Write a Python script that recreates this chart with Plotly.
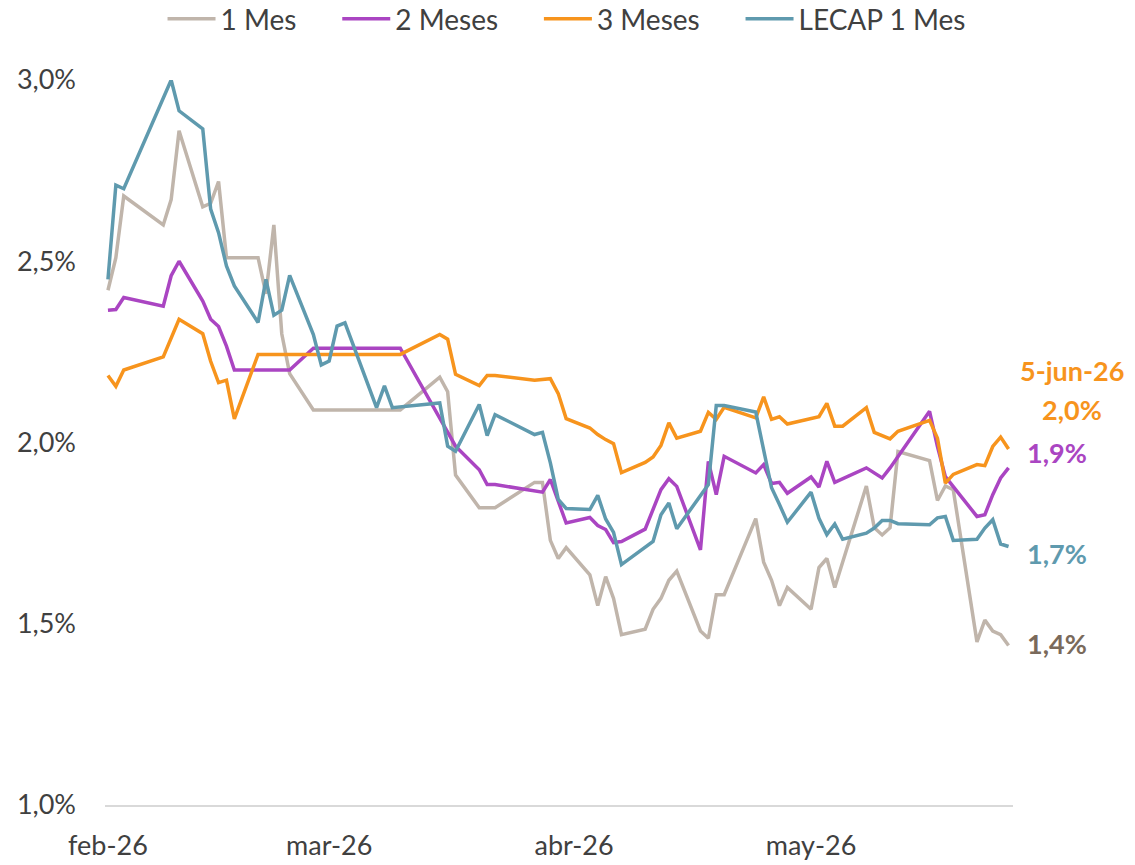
import plotly.graph_objects as go

# Tasas mensuales (%), por serie
fechas_1m = ["2026-02-01", "2026-02-02", "2026-02-03", "2026-02-08", "2026-02-09", "2026-02-10",
             "2026-02-13", "2026-02-14", "2026-02-15", "2026-02-16", "2026-02-20", "2026-02-21",
             "2026-02-22", "2026-02-23", "2026-02-24", "2026-02-27", "2026-03-10", "2026-03-15",
             "2026-03-16", "2026-03-17", "2026-03-20", "2026-03-22", "2026-03-27", "2026-03-28",
             "2026-03-29", "2026-03-30", "2026-03-31", "2026-04-03", "2026-04-04", "2026-04-05",
             "2026-04-06", "2026-04-07", "2026-04-10", "2026-04-11", "2026-04-12", "2026-04-13",
             "2026-04-14", "2026-04-17", "2026-04-18", "2026-04-19", "2026-04-20", "2026-04-24",
             "2026-04-25", "2026-04-26", "2026-04-27", "2026-04-28", "2026-05-01", "2026-05-02",
             "2026-05-03", "2026-05-04", "2026-05-08", "2026-05-09", "2026-05-10", "2026-05-11",
             "2026-05-12", "2026-05-16", "2026-05-17", "2026-05-18", "2026-05-19", "2026-05-22",
             "2026-05-23", "2026-05-24", "2026-05-25", "2026-05-26"]
tasa_1m = [2.42, 2.51, 2.68, 2.60, 2.67, 2.86,
           2.65, 2.66, 2.72, 2.51, 2.51, 2.41,
           2.60, 2.30, 2.19, 2.09, 2.09, 2.18,
           2.14, 1.91, 1.82, 1.82, 1.89, 1.89,
           1.73, 1.68, 1.71, 1.635, 1.55, 1.63,
           1.57, 1.47, 1.485, 1.54, 1.57, 1.62,
           1.645, 1.48, 1.46, 1.58, 1.58, 1.79,
           1.67, 1.62, 1.55, 1.60, 1.54, 1.655,
           1.68, 1.60, 1.88, 1.765, 1.745, 1.765,
           1.975, 1.95, 1.84, 1.88, 1.87, 1.45,
           1.51, 1.48, 1.47, 1.44]

fechas_2m = ["2026-02-01", "2026-02-02", "2026-02-03", "2026-02-08", "2026-02-09", "2026-02-10",
             "2026-02-13", "2026-02-14", "2026-02-15", "2026-02-16", "2026-02-17", "2026-02-24",
             "2026-02-27", "2026-03-10", "2026-03-17", "2026-03-20", "2026-03-21", "2026-03-22",
             "2026-03-28", "2026-03-29", "2026-03-31", "2026-04-03", "2026-04-04", "2026-04-05",
             "2026-04-06", "2026-04-07", "2026-04-10", "2026-04-12", "2026-04-13", "2026-04-14",
             "2026-04-17", "2026-04-18", "2026-04-19", "2026-04-20", "2026-04-24", "2026-04-25",
             "2026-04-26", "2026-04-27", "2026-04-28", "2026-05-01", "2026-05-02", "2026-05-03",
             "2026-05-04", "2026-05-08", "2026-05-10", "2026-05-11", "2026-05-16", "2026-05-17",
             "2026-05-18", "2026-05-22", "2026-05-23", "2026-05-24", "2026-05-25", "2026-05-26"]
tasa_2m = [2.365, 2.367, 2.40, 2.376, 2.46, 2.50,
           2.39, 2.34, 2.32, 2.266, 2.20, 2.20,
           2.26, 2.26, 1.99, 1.925, 1.884, 1.884,
           1.863, 1.898, 1.778, 1.793, 1.771, 1.76,
           1.724, 1.727, 1.761, 1.87, 1.90, 1.879,
           1.704, 1.948, 1.856, 1.962, 1.916, 1.939,
           1.887, 1.89, 1.86, 1.905, 1.877, 1.948,
           1.89, 1.93, 1.902, 1.93, 2.086, 1.989,
           1.906, 1.796, 1.801, 1.856, 1.902, 1.93]

fechas_3m = ["2026-02-01", "2026-02-02", "2026-02-03", "2026-02-08", "2026-02-10", "2026-02-13",
             "2026-02-14", "2026-02-15", "2026-02-16", "2026-02-17", "2026-02-20", "2026-03-10",
             "2026-03-15", "2026-03-16", "2026-03-17", "2026-03-20", "2026-03-21", "2026-03-22",
             "2026-03-27", "2026-03-29", "2026-03-30", "2026-03-31", "2026-04-03", "2026-04-04",
             "2026-04-05", "2026-04-06", "2026-04-07", "2026-04-10", "2026-04-11", "2026-04-12",
             "2026-04-13", "2026-04-14", "2026-04-17", "2026-04-18", "2026-04-19", "2026-04-20",
             "2026-04-24", "2026-04-25", "2026-04-26", "2026-04-27", "2026-04-28", "2026-05-02",
             "2026-05-03", "2026-05-04", "2026-05-05", "2026-05-08", "2026-05-09", "2026-05-11",
             "2026-05-12", "2026-05-16", "2026-05-17", "2026-05-18", "2026-05-19", "2026-05-22",
             "2026-05-23", "2026-05-24", "2026-05-25", "2026-05-26"]
tasa_3m = [2.185, 2.155, 2.20, 2.236, 2.34, 2.30,
           2.224, 2.165, 2.172, 2.065, 2.243, 2.243,
           2.298, 2.285, 2.188, 2.157, 2.185, 2.185,
           2.172, 2.176, 2.135, 2.066, 2.04, 2.022,
           2.008, 1.997, 1.917, 1.945, 1.96, 1.992,
           2.054, 2.012, 2.031, 2.083, 2.064, 2.097,
           2.068, 2.126, 2.064, 2.071, 2.051, 2.071,
           2.108, 2.045, 2.045, 2.096, 2.028, 2.01,
           2.031, 2.061, 2.012, 1.888, 1.912, 1.939,
           1.936, 1.989, 2.015, 1.982]

fechas_lecap = ["2026-02-01", "2026-02-02", "2026-02-03", "2026-02-09", "2026-02-10", "2026-02-13",
                "2026-02-14", "2026-02-15", "2026-02-16", "2026-02-17", "2026-02-20", "2026-02-21",
                "2026-02-22", "2026-02-23", "2026-02-24", "2026-02-27", "2026-02-28", "2026-03-01",
                "2026-03-02", "2026-03-03", "2026-03-07", "2026-03-08", "2026-03-09", "2026-03-15",
                "2026-03-16", "2026-03-17", "2026-03-20", "2026-03-21", "2026-03-22", "2026-03-27",
                "2026-03-28", "2026-03-29", "2026-03-30", "2026-03-31", "2026-04-03", "2026-04-04",
                "2026-04-05", "2026-04-06", "2026-04-07", "2026-04-11", "2026-04-12", "2026-04-13",
                "2026-04-14", "2026-04-18", "2026-04-19", "2026-04-20", "2026-04-24", "2026-04-26",
                "2026-04-27", "2026-04-28", "2026-05-01", "2026-05-02", "2026-05-03", "2026-05-04",
                "2026-05-05", "2026-05-08", "2026-05-09", "2026-05-10", "2026-05-11", "2026-05-12",
                "2026-05-16", "2026-05-17", "2026-05-18", "2026-05-19", "2026-05-22", "2026-05-23",
                "2026-05-24", "2026-05-25", "2026-05-26"]
tasa_lecap = [2.45, 2.71, 2.70, 3.00, 2.915, 2.865,
              2.644, 2.579, 2.487, 2.432, 2.331, 2.45,
              2.351, 2.365, 2.461, 2.298, 2.214, 2.225,
              2.321, 2.33, 2.096, 2.156, 2.096, 2.109,
              1.99, 1.976, 2.105, 2.019, 2.077, 2.022,
              2.028, 1.944, 1.843, 1.818, 1.815, 1.854,
              1.789, 1.752, 1.663, 1.727, 1.801, 1.833,
              1.762, 1.884, 2.102, 2.102, 2.084, 1.875,
              1.829, 1.78, 1.863, 1.791, 1.746, 1.775,
              1.733, 1.75, 1.764, 1.785, 1.785, 1.776,
              1.773, 1.792, 1.796, 1.73, 1.733, 1.764,
              1.787, 1.72, 1.713]

series = [
    ("1 Mes", fechas_1m, tasa_1m, "#C0B5AB", "#7A6A5B"),
    ("2 Meses", fechas_2m, tasa_2m, "#AA45C2", "#AA45C2"),
    ("3 Meses", fechas_3m, tasa_3m, "#F7941D", "#F7941D"),
    ("LECAP 1 Mes", fechas_lecap, tasa_lecap, "#5F9AAE", "#5F9AAE"),
]

tick_fechas = ["2026-02-01", "2026-03-01", "2026-04-01", "2026-05-01"]
tick_meses = ["feb-26", "mar-26", "abr-26", "may-26"]
tick_tasas = [1.0, 1.5, 2.0, 2.5, 3.0]

ultima_fecha = "5-jun-26"


def pct(v):
    return f"{v:.1f}%".replace(".", ",")


fig = go.Figure()
for nombre, x, y, color, _ in series:
    assert len(x) == len(y), nombre
    # espacios duros al final para separar las entradas de la leyenda
    fig.add_trace(go.Scatter(x=x, y=y, name=nombre + "\u00a0" * 5, mode="lines",
                             line=dict(color=color, width=3.5)))

# etiquetas del ultimo valor a la derecha
pos_etiquetas = {"1 Mes": (1.013, 1.445, "left"), "2 Meses": (1.013, 1.972, "left"),
                 "3 Meses": (1.065, 2.091, "center"), "LECAP 1 Mes": (1.013, 1.693, "left")}
for nombre, x, y, color, color_txt in series:
    px_, py_, anchor = pos_etiquetas[nombre]
    fig.add_annotation(x=px_, xref="paper", y=py_, yref="y", xanchor=anchor, yanchor="middle",
                       text=pct(y[-1]), showarrow=False,
                       font=dict(size=27, color=color_txt, family="Lato", weight="bold"))
fig.add_annotation(x=1.065, xref="paper", y=2.199, yref="y", xanchor="center", yanchor="middle",
                   text=ultima_fecha, showarrow=False,
                   font=dict(size=27, color="#F7941D", family="Lato", weight="bold"))

fig.update_layout(
    width=1135, height=865,
    margin=dict(l=105, r=122, t=80, b=60),
    plot_bgcolor="white", paper_bgcolor="white",
    font=dict(family="Lato", size=27, color="#404040"),
    separators=",.",
    legend=dict(orientation="h", x=0.515, xanchor="center", xref="container",
                y=0.978, yanchor="middle", yref="container", font=dict(size=28),
                itemwidth=48, tracegroupgap=0),
    hovermode=False,
)
fig.update_xaxes(range=["2026-01-31 15:00", "2026-05-26 13:30"],
                 tickvals=tick_fechas, ticktext=tick_meses,
                 showgrid=False, showline=True, linecolor="#D9D9D9", linewidth=2,
                 ticks="", ticklabelstandoff=16, automargin=False)
fig.update_yaxes(range=[1.0, 3.0], tickvals=tick_tasas, ticktext=[pct(v) for v in tick_tasas],
                 showgrid=False, zeroline=False, showline=False, ticks="",
                 ticklabelstandoff=28, automargin=False)

fig.write_html("out.html", config={"displayModeBar": False},
               post_script="document.body.style.margin='0px';")
